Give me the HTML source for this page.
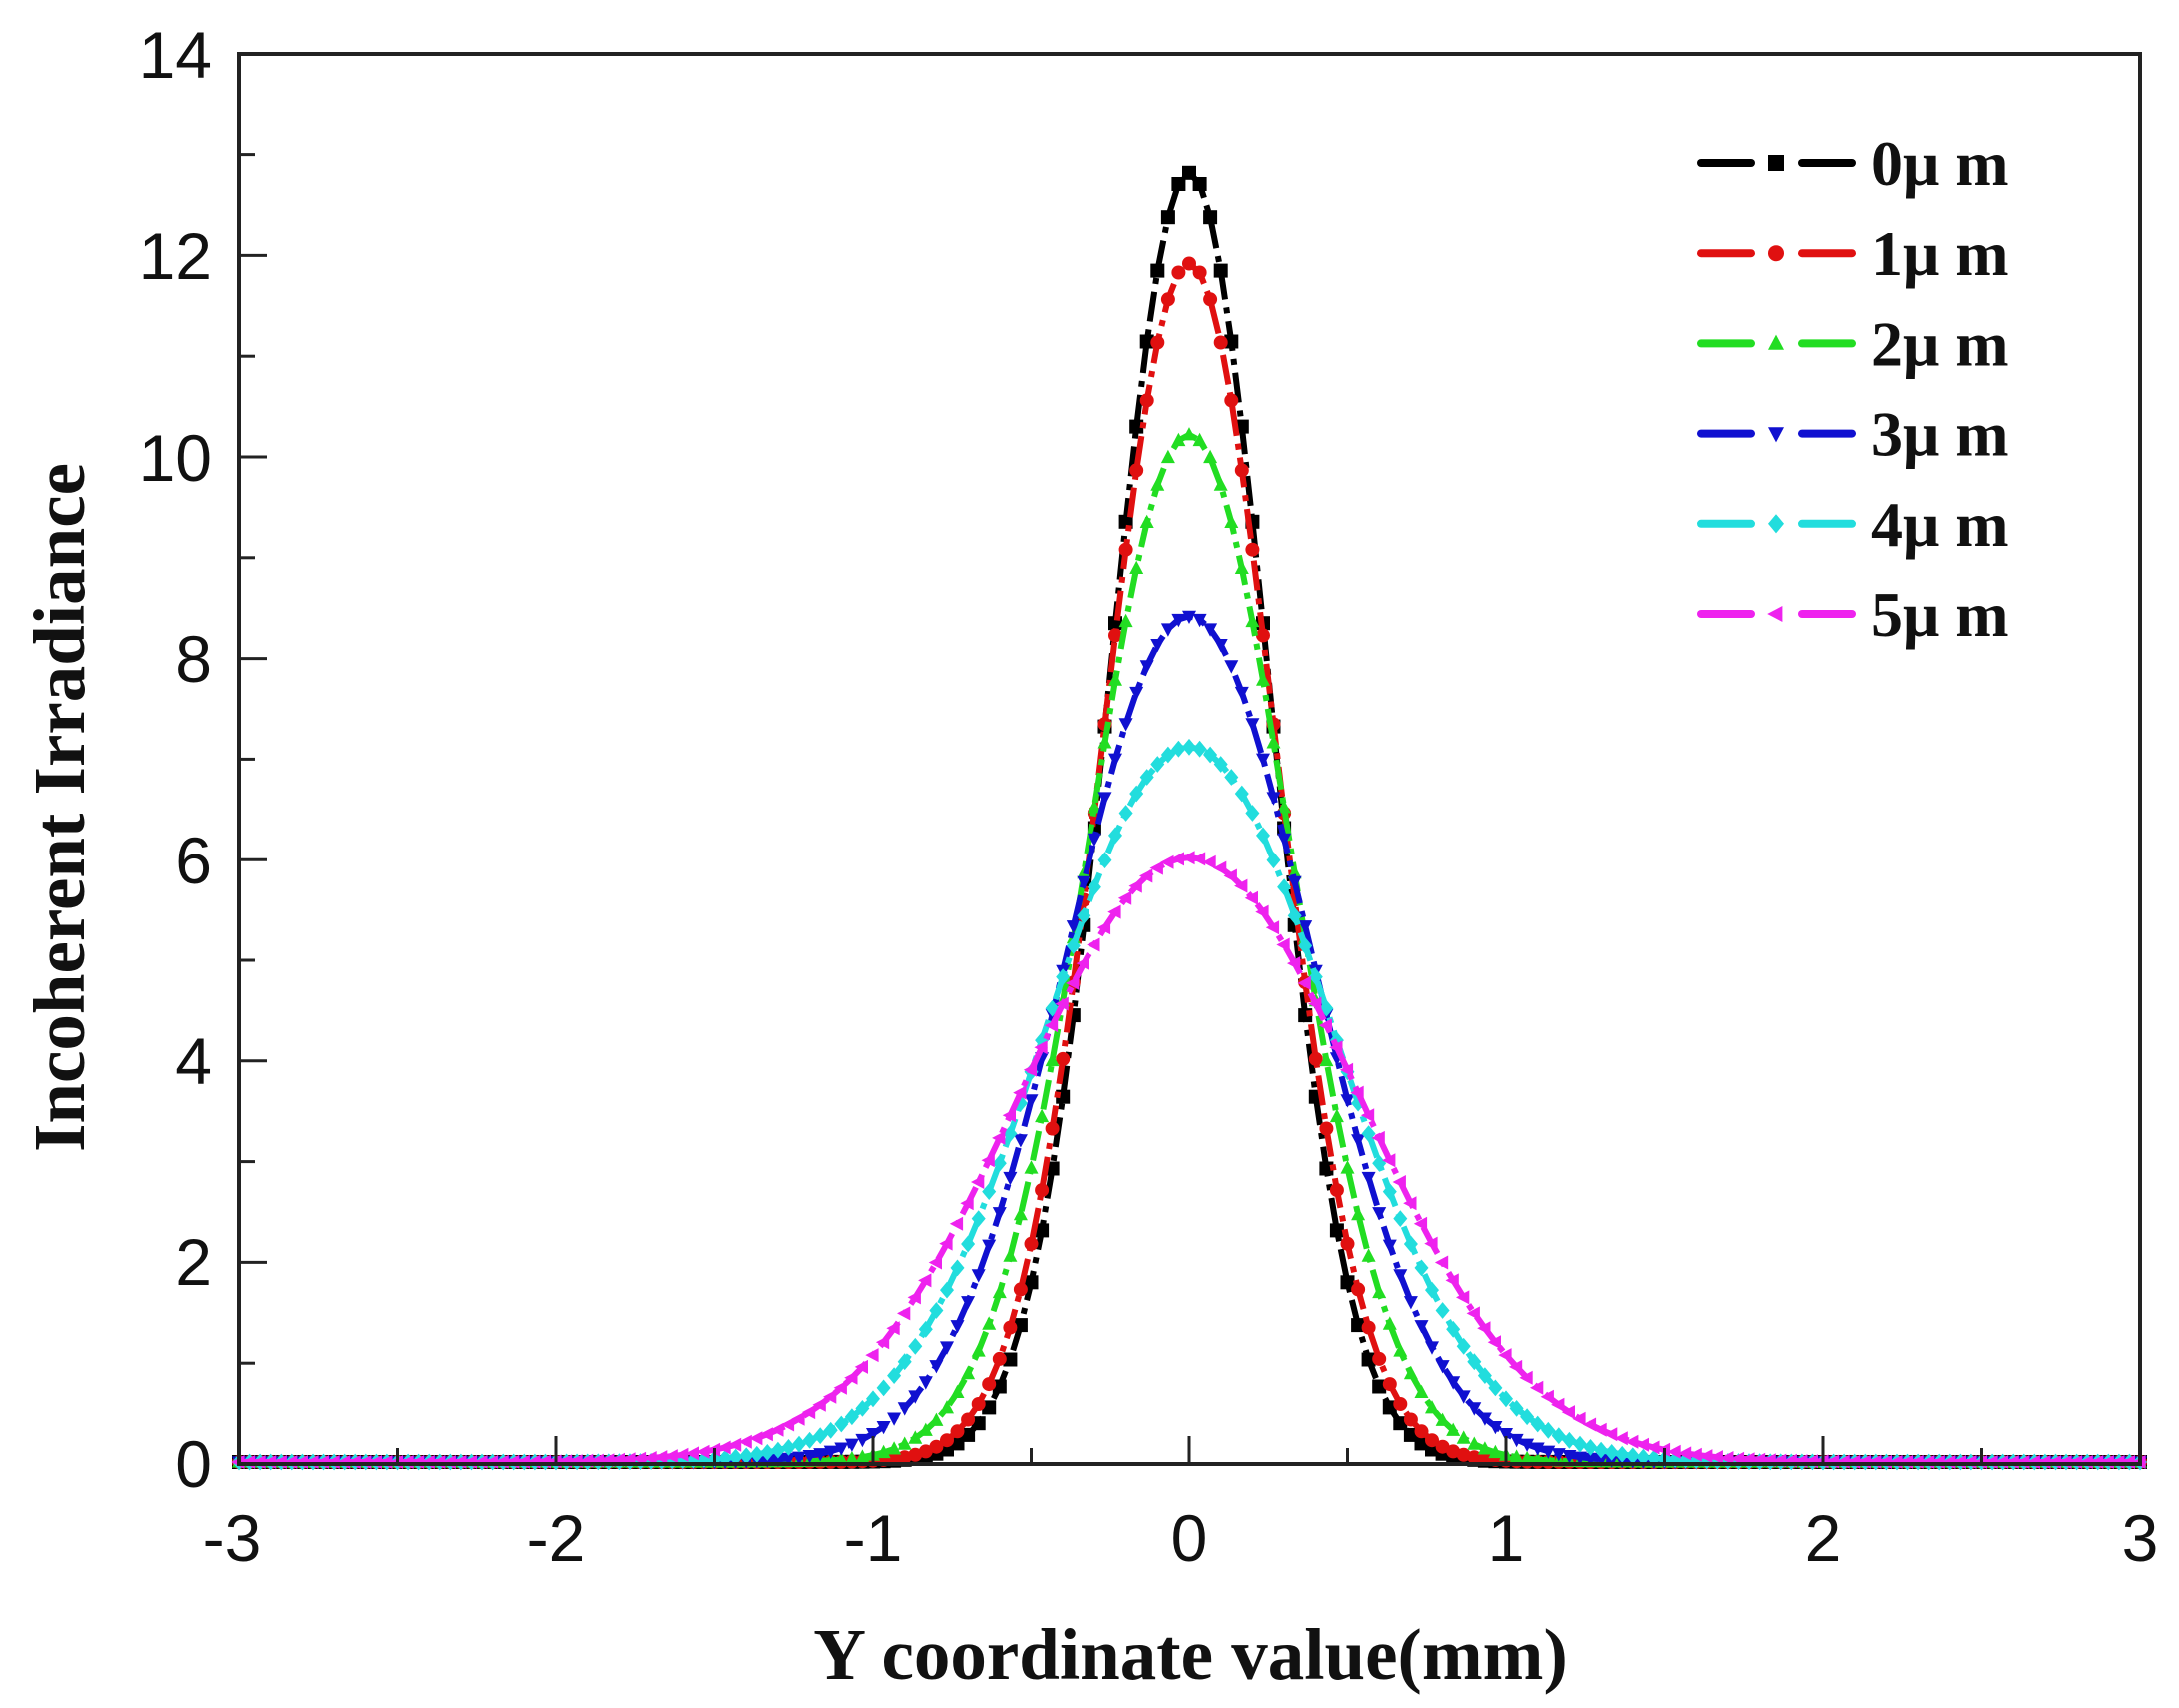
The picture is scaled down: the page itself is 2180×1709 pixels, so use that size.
<!DOCTYPE html>
<html><head><meta charset="utf-8"><style>
html,body{margin:0;padding:0;background:#fff;}
svg{display:block;}
</style></head><body>
<svg id="s" width="2180" height="1709" xmlns="http://www.w3.org/2000/svg">
<rect width="2180" height="1709" fill="#fff"/>
<g id="series"></g>
<g id="ticks" stroke="#222" stroke-width="3"></g>
<rect x="239" y="54" width="1902" height="1411" fill="none" stroke="#222" stroke-width="4"/>
<g font-family="Liberation Sans, sans-serif" font-size="66" fill="#111" text-anchor="end">
<text x="212" y="1488">0</text>
<text x="212" y="1286">2</text>
<text x="212" y="1085">4</text>
<text x="212" y="884">6</text>
<text x="212" y="682">8</text>
<text x="212" y="481">10</text>
<text x="212" y="279">12</text>
<text x="212" y="78">14</text>
</g>
<g font-family="Liberation Sans, sans-serif" font-size="66" fill="#111" text-anchor="middle">
<text x="232" y="1562">-3</text>
<text x="556" y="1562">-2</text>
<text x="873" y="1562">-1</text>
<text x="1190" y="1562">0</text>
<text x="1507" y="1562">1</text>
<text x="1824" y="1562">2</text>
<text x="2141" y="1562">3</text>
</g>
<text x="1191" y="1680" font-family="Liberation Serif, serif" font-weight="bold" font-size="73" text-anchor="middle" fill="#111">Y coordinate value(mm)</text>
<text transform="translate(84,808) rotate(-90)" font-family="Liberation Serif, serif" font-weight="bold" font-size="73" text-anchor="middle" fill="#111">Incoherent Irradiance</text>
<g id="legend" font-family="Liberation Serif, serif" font-weight="bold" font-size="64" fill="#111"></g>
</svg>
<script>
var NS="http://www.w3.org/2000/svg";
function el(t,a,p){var e=document.createElementNS(NS,t);for(var k in a)e.setAttribute(k,a[k]);p.appendChild(e);return e;}
var X=function(v){return 1190+v*317;}, Y=function(v){return 1465-v*100.8;};
var tk=document.getElementById('ticks');
for(var i=0;i<=14;i++){var L=i%2==0?28:16;el('line',{x1:239,y1:Y(i),x2:239+L,y2:Y(i)},tk);}
for(var i=-6;i<=6;i++){var L=i%2==0?28:16;el('line',{x1:X(i/2),y1:1465,x2:X(i/2),y2:1465-L},tk);}
var S=[
 {c:"#000000",p:12.8,m:"sq"},
 {c:"#e01010",p:11.9,m:"ci"},
 {c:"#22dd22",p:10.2,m:"tu"},
 {c:"#1010d0",p:8.4,m:"td"},
 {c:"#22dddd",p:7.1,m:"di"},
 {c:"#ee22ee",p:6.0,m:"tl"}];
function marker(m,x,y,c,g,r){
 r=r||7;
 if(m=="sq")el('rect',{x:x-r,y:y-r,width:2*r,height:2*r,fill:c},g);
 else if(m=="ci")el('circle',{cx:x,cy:y,r:r,fill:c},g);
 else if(m=="tu")el('polygon',{points:(x-r)+","+(y+r*0.8)+" "+(x+r)+","+(y+r*0.8)+" "+x+","+(y-r*1.1),fill:c},g);
 else if(m=="td")el('polygon',{points:(x-r)+","+(y-r*0.8)+" "+(x+r)+","+(y-r*0.8)+" "+x+","+(y+r*1.1),fill:c},g);
 else if(m=="di")el('polygon',{points:x+","+(y-r*1.2)+" "+(x+r)+","+y+" "+x+","+(y+r*1.2)+" "+(x-r)+","+y,fill:c},g);
 else el('polygon',{points:(x+r*0.8)+","+(y-r)+" "+(x+r*0.8)+","+(y+r)+" "+(x-r*1.1)+","+y,fill:c},g);
}
var sg=document.getElementById('series');
S.forEach(function(s){
 var sig=3.223/s.p, pts=[];
 for(var k=0;k<=180;k++){var x=-3+k*6/180;var v=s.p*Math.exp(-x*x/(2*sig*sig));pts.push(X(x).toFixed(1)+","+(Y(v)-2).toFixed(1));}
 el('polyline',{points:pts.join(" "),fill:"none",stroke:s.c,"stroke-width":6,"stroke-dasharray":"30 8 6 8"},sg);
 pts.forEach(function(p){var q=p.split(",");marker(s.m,+q[0],+q[1],s.c,sg);});
});
var lg=document.getElementById('legend');
["0μ m","1μ m","2μ m","3μ m","4μ m","5μ m"].forEach(function(t,i){
 var y=163+i*90.2, s=S[i];
 el('line',{x1:1702,y1:y,x2:1752,y2:y,stroke:s.c,"stroke-width":8,"stroke-linecap":"round"},lg);
 el('line',{x1:1803,y1:y,x2:1853,y2:y,stroke:s.c,"stroke-width":8,"stroke-linecap":"round"},lg);
 marker(s.m,1777,y,s.c,lg,8);
 var tx=el('text',{x:1872,y:y+22},lg);tx.textContent=t;
});
</script>
</body></html>
